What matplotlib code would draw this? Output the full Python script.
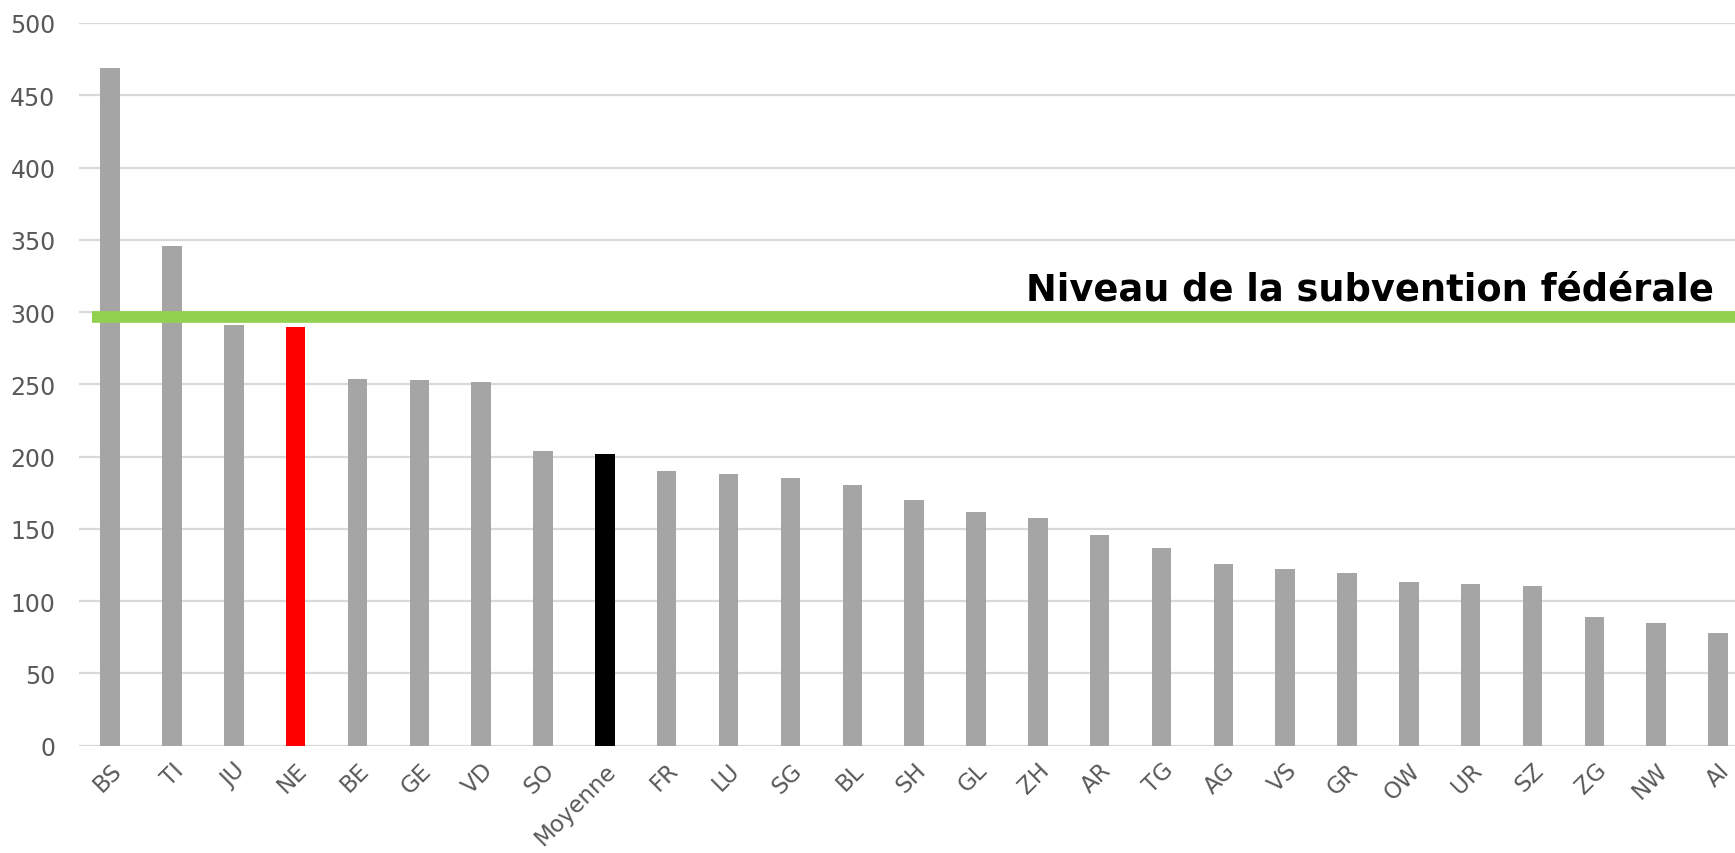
import matplotlib
matplotlib.use("Agg")
import matplotlib.pyplot as plt

cantons = ["BS", "TI", "JU", "NE", "BE", "GE", "VD", "SO", "Moyenne", "FR", "LU", "SG", "BL",
           "SH", "GL", "ZH", "AR", "TG", "AG", "VS", "GR", "OW", "UR", "SZ", "ZG", "NW", "AI"]
values = [469, 345.5, 291, 290, 254, 253, 251.5, 204, 201.5, 190, 188, 185, 180.5,
          170, 162, 157.5, 146, 136.5, 126, 122, 119.5, 113.5, 112, 110.5, 89, 85, 78]
highlight_colors = {"NE": "#FF0000", "Moyenne": "#000000"}
subsidy_level = 296.5
subsidy_label = "Niveau de la subvention fédérale"
yticks = list(range(0, 501, 50))

plt.rcParams['font.family'] = ['DejaVu Sans']
fig = plt.figure(figsize=(17.35, 8.54), dpi=100)
ax = fig.add_axes([0.04565, 0.1256, 0.9624, 0.8463])

x = list(range(len(cantons)))
colors = [highlight_colors.get(c, "#A5A5A5") for c in cantons]
ax.bar(x, values, width=0.315, color=colors, zorder=3)

ax.set_xlim(-0.5, len(cantons) - 0.5)
ax.set_ylim(0, 500)
ax.set_yticks(yticks)
ax.set_yticklabels([str(t) for t in yticks])
ax.grid(axis='y', color='#D9D9D9', linewidth=1.6, zorder=0)
ax.set_axisbelow(True)
for s in ax.spines.values():
    s.set_visible(False)
ax.tick_params(axis='y', length=0, colors='#595959', labelsize=17, pad=17)
ax.set_xticks(x)
ax.set_xticklabels(cantons, rotation=45, ha='right', rotation_mode='anchor')
ax.tick_params(axis='x', length=0, colors='#595959', labelsize=16.5, pad=9)

ax.plot([-0.294, len(cantons) + 1], [subsidy_level, subsidy_level], color='#92D050',
        linewidth=8.4, solid_capstyle='butt', zorder=4, clip_on=False)
ax.text(25.93, 308.4, subsidy_label, ha='right', va='baseline', fontsize=26.5,
        fontweight='bold', color='black', zorder=5)

fig.savefig("out.png", dpi=100)
